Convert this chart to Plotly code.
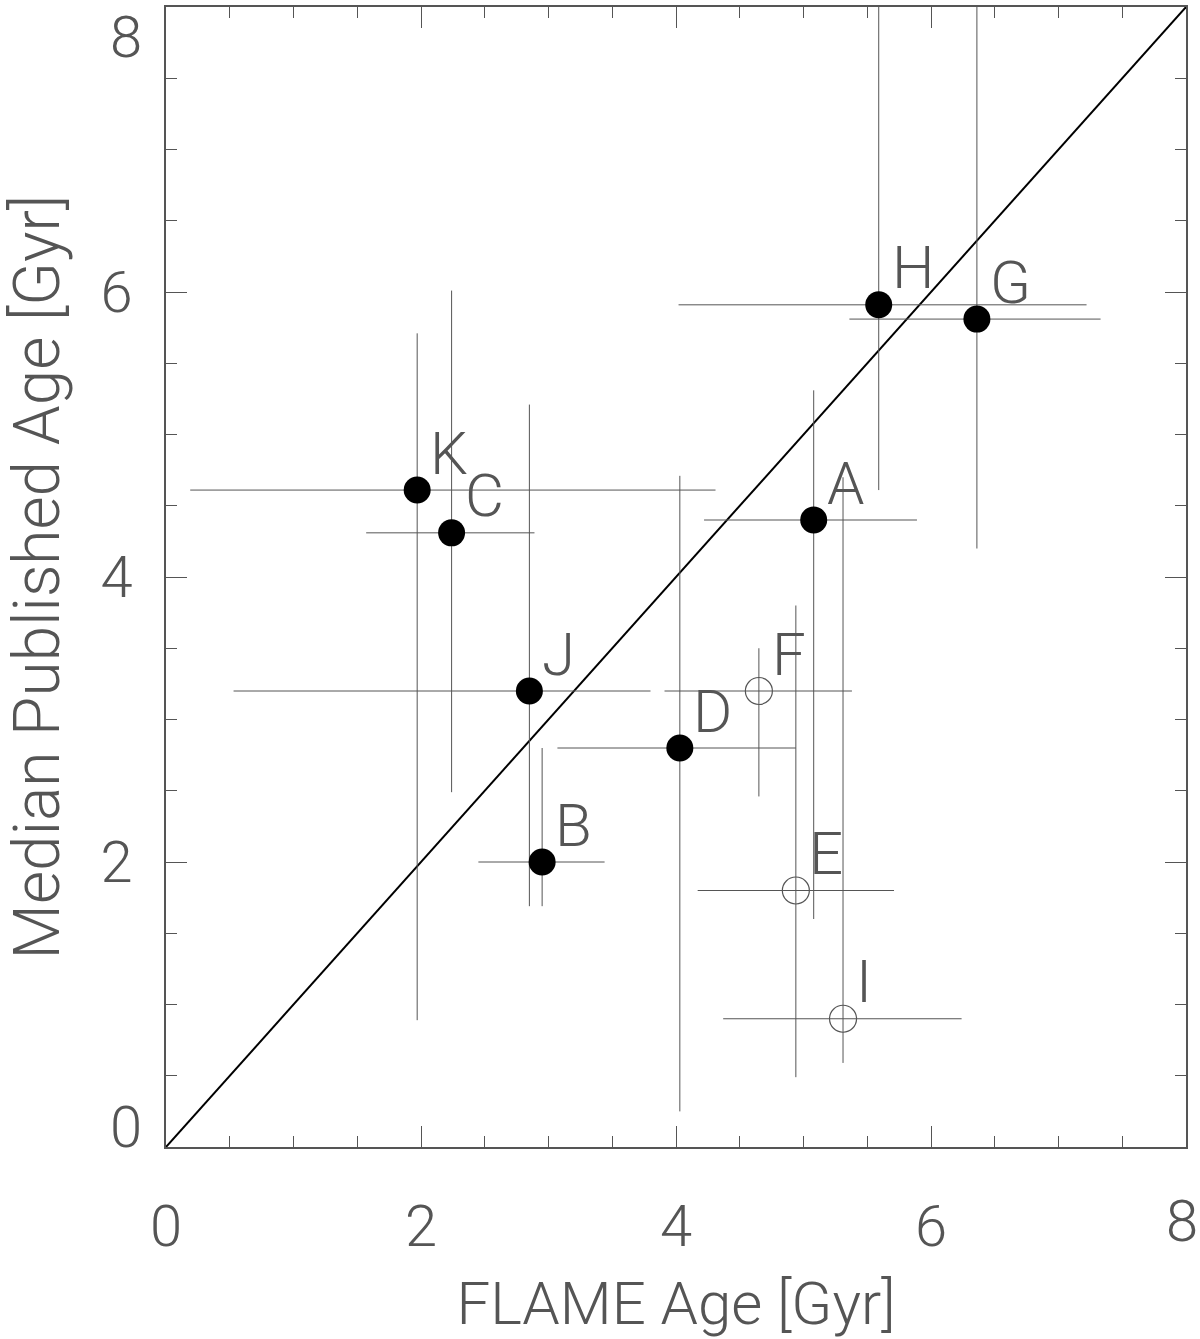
import plotly.graph_objects as go

# ---- data ----
names = ['A', 'B', 'C', 'D', 'E', 'F', 'G', 'H', 'I', 'J', 'K']
flame_age = [5.08, 2.95, 2.24, 4.03, 4.94, 4.65, 6.36, 5.59, 5.31, 2.85, 1.97]
flame_lo = [4.22, 2.45, 1.57, 3.07, 4.17, 3.91, 5.36, 4.02, 4.37, 0.53, 0.19]
flame_hi = [5.89, 3.44, 2.89, 4.94, 5.71, 5.38, 7.33, 7.22, 6.24, 3.80, 4.31]
pub_age = [4.40, 2.00, 4.31, 2.80, 1.80, 3.20, 5.81, 5.91, 0.90, 3.20, 4.61]
pub_lo = [1.60, 1.69, 2.49, 0.25, 0.49, 2.46, 4.20, 4.61, 0.59, 1.69, 0.89]
pub_hi = [5.31, 2.80, 6.01, 4.71, 3.80, 3.50, 8.60, 8.60, 4.70, 5.21, 5.71]
filled = [True, True, True, True, False, False, True, True, False, True, True]
one_to_one = [0, 8]
tick_vals = [0, 2, 4, 6, 8]
tick_text = ['0', '2', '4', '6', '8']

FONT = 'Roboto Light, Roboto'
TXT = '#555555'
LINE = '#555555'
W = 200

fig = go.Figure()

# 1:1 line
fig.add_trace(go.Scatter(x=one_to_one, y=one_to_one, mode='lines',
                         line=dict(color='black', width=2), showlegend=False,
                         hoverinfo='skip'))


def subset(vals, flag):
    return [v for v, f in zip(vals, filled) if f == flag]


for flag in (True, False):
    xs = subset(flame_age, flag)
    ys = subset(pub_age, flag)
    xl = subset(flame_lo, flag)
    xh = subset(flame_hi, flag)
    yl = subset(pub_lo, flag)
    yh = subset(pub_hi, flag)
    fig.add_trace(go.Scatter(
        x=xs, y=ys, mode='markers', showlegend=False,
        text=subset(names, flag),
        error_x=dict(type='data', symmetric=False,
                     array=[h - v for h, v in zip(xh, xs)],
                     arrayminus=[v - l for l, v in zip(xl, xs)],
                     color=LINE, thickness=1, width=0),
        error_y=dict(type='data', symmetric=False,
                     array=[h - v for h, v in zip(yh, ys)],
                     arrayminus=[v - l for l, v in zip(yl, ys)],
                     color=LINE, thickness=1, width=0),
        marker=dict(symbol='circle' if flag else 'circle-open',
                    size=27,
                    color='black' if flag else LINE,
                    line=dict(width=0 if flag else 1.2, color=LINE)),
    ))

# point labels
for n, x, y in zip(names, flame_age, pub_age):
    fig.add_annotation(x=x, y=y, text=n, showarrow=False,
                       xanchor='left', yanchor='middle', xshift=11, yshift=37,
                       font=dict(family=FONT, size=60, color=TXT, weight=W))

edge_font = dict(family=FONT, size=58, color=TXT, weight=W)
# top y tick label "8" sits just below the frame top
fig.add_annotation(xref='paper', x=0, y=tick_vals[-1], text=tick_text[-1],
                   showarrow=False, xanchor='right', yanchor='top',
                   xshift=-22, yshift=6, font=edge_font)
# bottom y tick label "0" sits just above the frame bottom
fig.add_annotation(xref='paper', x=0, y=tick_vals[0], text=tick_text[0],
                   showarrow=False, xanchor='right', yanchor='bottom',
                   xshift=-22, yshift=-16, font=edge_font)
# right-most x tick label "8" kept inside the page
fig.add_annotation(x=tick_vals[-1], yref='paper', y=0, text=tick_text[-1],
                   showarrow=False, xanchor='right', yanchor='top',
                   xshift=14, yshift=-38, font=edge_font)

axis_common = dict(
    range=[0, 8], showgrid=False, zeroline=False,
    showline=True, linecolor=LINE, linewidth=1.5, mirror='ticks',
    ticks='inside', ticklen=21, tickwidth=1.2, tickcolor=LINE,
    tickvals=tick_vals,
    minor=dict(dtick=0.5, ticks='inside', ticklen=11, tickwidth=1.2,
               tickcolor=LINE, showgrid=False),
    tickfont=dict(family=FONT, size=58, color=TXT, weight=W),
)

fig.update_layout(
    width=1200, height=1339,
    margin=dict(l=166, r=14, t=5, b=186),
    paper_bgcolor='white', plot_bgcolor='white',
    xaxis=dict(**axis_common, ticktext=tick_text[:-1] + [''],
               ticklabelstandoff=28,
               title=dict(text='FLAME Age [Gyr]', standoff=32,
                          font=dict(family=FONT, size=60, color=TXT, weight=W))),
    yaxis=dict(**axis_common, ticktext=[''] + tick_text[1:-1] + [''],
               ticklabelstandoff=20,
               title=dict(text='Median Published Age [Gyr]', standoff=41,
                          font=dict(family=FONT, size=64, color=TXT, weight=W))),
)

fig.write_html('out.html',
               config={'displayModeBar': False, 'responsive': False},
               post_script="document.body.style.margin='0';"
                           "document.body.style.overflow='hidden';"
                           "document.documentElement.style.overflow='hidden';")
